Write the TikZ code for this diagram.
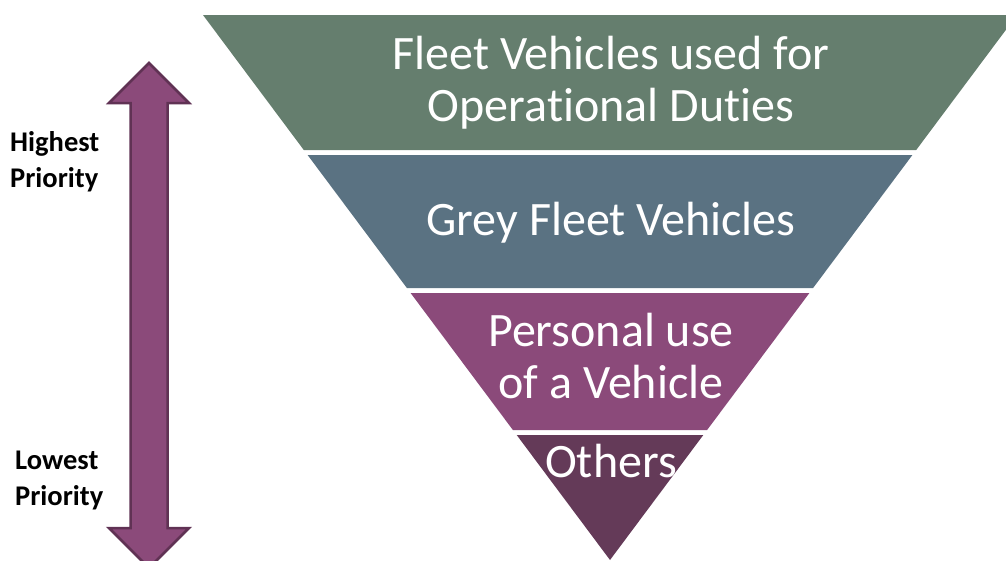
\documentclass[tikz,border=0pt]{standalone}
\usepackage{fontspec}
\setmainfont{Carlito}[Ligatures=NoCommon]
\definecolor{bandA}{RGB}{101,126,110}
\definecolor{bandB}{RGB}{90,114,130}
\definecolor{bandC}{RGB}{139,74,122}
\definecolor{bandD}{RGB}{100,58,88}
\definecolor{arrowfill}{RGB}{139,74,122}
\definecolor{arrowline}{RGB}{96,50,84}
\tikzset{
  band/.style={draw=white, line width=0.6pt},
  bandtext/.style={text=white, align=center, font=\fontsize{48}{52}\selectfont, inner sep=0pt},
  prio/.style={text=black, align=left, font=\bfseries\fontsize{28.5}{36}\selectfont, inner sep=0pt, anchor=base west},
  prioarrow/.style={fill=arrowfill, draw=arrowline, line width=2.5pt, line join=miter}
}
\begin{document}
\begin{tikzpicture}[x=1pt,y=-1pt]
\useasboundingbox (0,0) rectangle (1006,560);
\clip (0,0) rectangle (1006,560);
% pyramid bands
\fill[bandA] (203,15) -- (1017,15) -- (916.2,150) -- (303.8,150) -- cycle;
\fill[bandB] (307.6,155) -- (912.4,155) -- (813.1,288) -- (406.9,288) -- cycle;
\fill[bandC] (410.6,293) -- (809.4,293) -- (707.1,430) -- (512.9,430) -- cycle;
\fill[bandD] (516.7,435) -- (703.3,435) -- (610,560) -- cycle;
% band texts (base anchor = baseline of the last line)
\node[bandtext, anchor=base] (t1) at (611,121) {Fleet Vehicles used for\\Operational Duties};
\node[bandtext, anchor=base] (t2) at (611,235) {Grey Fleet Vehicles};
\node[bandtext, anchor=base] (t3) at (611,398) {Personal use\\of a Vehicle};
\node[bandtext, anchor=base] (t4) at (611,477) {Others};
% priority arrow
\draw[prioarrow] (149,63) -- (189,103) -- (167.5,103) -- (167.5,528) -- (189,528) -- (149,568)
  -- (109,528) -- (130.5,528) -- (130.5,103) -- (109,103) -- cycle;
% labels
\node[prio] (hi) at (10,187) {Highest\\Priority};
\node[prio] (lo) at (15,505) {Lowest\\Priority};
\end{tikzpicture}
\end{document}
